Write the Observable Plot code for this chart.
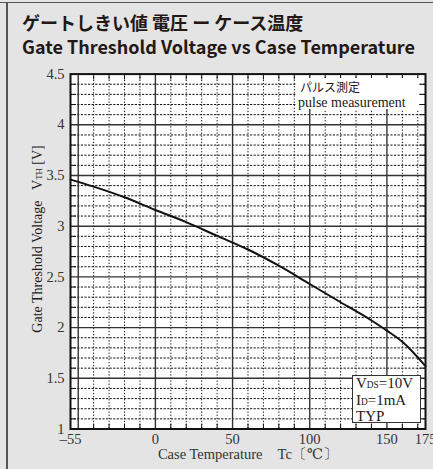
<!DOCTYPE html>
<html>
<head>
<meta charset="utf-8">
<script src="https://cdn.jsdelivr.net/npm/d3@7"></script>
<script src="https://cdn.jsdelivr.net/npm/@observablehq/plot@0.6"></script>
<style>
  html, body { margin: 0; padding: 0; background: #e4e4e4; }
  #wrap { position: relative; width: 433px; height: 469px; background: #e4e4e4; overflow: hidden; }
  .t { position: absolute; left: 22px; white-space: nowrap; color: #231815; font-family: "Noto Sans CJK JP", "Noto Sans", sans-serif; font-weight: 700; font-size: 18px; line-height: 19px; }
  .serif { font-family: "Liberation Serif", "DejaVu Serif", serif; color: #231815; }
  .cjk { font-family: "Noto Sans CJK JP", sans-serif; }
  #plot { position: absolute; left: 0; top: 60px; }
  sub { font-size: 0.62em; vertical-align: 0; }
</style>
</head>
<body>
<div id="wrap">
  <div style="position:absolute;left:0;top:2px;width:433px;height:1px;background:#555;"></div>
  <div style="position:absolute;left:6px;top:2px;width:1.5px;height:467px;background:#555;"></div>
  <div class="t" id="t1" style="top:13px;">ゲートしきい値 電圧 ー ケース温度</div>
  <div class="t" id="t2" style="top:37px;">Gate Threshold Voltage vs Case Temperature</div>
  <div id="plot"></div>
  <div id="ylab" class="serif" style="position:absolute;left:38px;top:239px;transform:translate(-50%,-50%) rotate(-90deg);white-space:nowrap;font-size:14px;">Gate Threshold Voltage&nbsp;&nbsp;&nbsp;V<sub>TH</sub> [V]</div>
  <div id="pulse" class="serif" style="position:absolute;left:296px;top:78px;width:123px;height:31px;background:#fff;font-size:14px;line-height:15px;">
    <div class="cjk" style="padding-left:4px;font-size:12px;line-height:17px;">パルス測定</div>
    <div style="padding-left:2px;">pulse measurement</div>
  </div>
  <div id="cond" class="serif" style="position:absolute;left:352px;top:375px;width:64px;height:46px;background:#fff;border:1px solid #333;font-size:15px;line-height:14.5px;padding-left:3px;box-sizing:content-box;">
    <div>V<sub>DS</sub>=10V</div>
    <div>I<sub>D</sub>=1mA</div>
    <div>TYP</div>
  </div>
</div>
<script>
// Case temperature (°C) and typical gate threshold voltage (V)
const temps = [-55, -40, -20, 0, 20, 40, 60, 80, 100, 120, 140, 150, 160, 175];
const vth   = [3.46, 3.39, 3.285, 3.16, 3.04, 2.905, 2.77, 2.61, 2.43, 2.25, 2.07, 1.97, 1.86, 1.62];

// Axis ticks and grid
const xTicks = [-55, 0, 50, 100, 150, 175];
const yTicks = [1, 1.5, 2, 2.5, 3, 3.5, 4, 4.5];
const xMajor = [-50, 0, 50, 100, 150];
const xMinor = [-40, -30, -20, -10, 10, 20, 30, 40, 60, 70, 80, 90, 110, 120, 130, 140, 160, 170];
const yMajor = [1.5, 2, 2.5, 3, 3.5, 4];
const yMinor = [1.1, 1.2, 1.3, 1.4, 1.6, 1.7, 1.8, 1.9, 2.1, 2.2, 2.3, 2.4, 2.6, 2.7, 2.8, 2.9,
                3.1, 3.2, 3.3, 3.4, 3.6, 3.7, 3.8, 3.9, 4.1, 4.2, 4.3, 4.4];

const data = temps.map((t, i) => ({T: t, V: vth[i]}));
const serif = "Liberation Serif, DejaVu Serif, serif";
const fmtX = d => d < 0 ? "\u2013" + Math.abs(d) : String(d);

// a straight tick shape for inward frame ticks
const stick = {draw(ctx, l) { ctx.moveTo(0, 0); ctx.lineTo(0, -l); }};
const inTicks = (vals, ch, frameAnchor, rotate) =>
  Plot.vector(vals, {[ch]: d => d, frameAnchor, rotate, length: 5, anchor: "start", shape: stick, stroke: "#111", strokeWidth: 1});

const chart = Plot.plot({
  width: 433,
  height: 409,
  marginTop: 13.6,
  marginBottom: 40.5,
  marginLeft: 70,
  marginRight: 8,
  style: {background: "transparent", fontFamily: serif, fontSize: "14.5px", color: "#333"},
  x: {domain: [-55, 175]},
  y: {domain: [1, 4.5]},
  marks: [
    Plot.frame({fill: "white", stroke: "none"}),
    Plot.ruleX(xMinor, {stroke: "#111", strokeWidth: 1, strokeDasharray: "1.3,1.8"}),
    Plot.ruleY(yMinor, {stroke: "#111", strokeWidth: 1, strokeDasharray: "2.2,1.4"}),
    Plot.ruleX(xMajor, {stroke: "#333", strokeWidth: 1.4}),
    Plot.ruleY(yMajor, {stroke: "#333", strokeWidth: 1.4}),
    inTicks(xMinor, "x", "top", 180),
    inTicks(xMinor, "x", "bottom", 0),
    inTicks(yMinor, "y", "left", 90),
    inTicks(yMinor, "y", "right", -90),
    Plot.axisX({anchor: "bottom", ticks: xTicks, tickSize: 0, tickPadding: 5, tickFormat: fmtX,
      label: "Case Temperature\u3000Tc\u3014\u2103\u3015", labelAnchor: "center", labelOffset: 30, labelArrow: "none",
      fill: "#333", fontSize: 14.5}),
    Plot.axisY({anchor: "left", ticks: yTicks, tickSize: 0, tickPadding: 6, tickFormat: d => String(d),
      label: null, fill: "#333", fontSize: 14.5}),
    Plot.line(data, {x: "T", y: "V", curve: "monotone-x", stroke: "#111", strokeWidth: 2}),
    Plot.frame({stroke: "#111", strokeWidth: 2})
  ]
});
document.getElementById("plot").append(chart);
</script>
</body>
</html>
